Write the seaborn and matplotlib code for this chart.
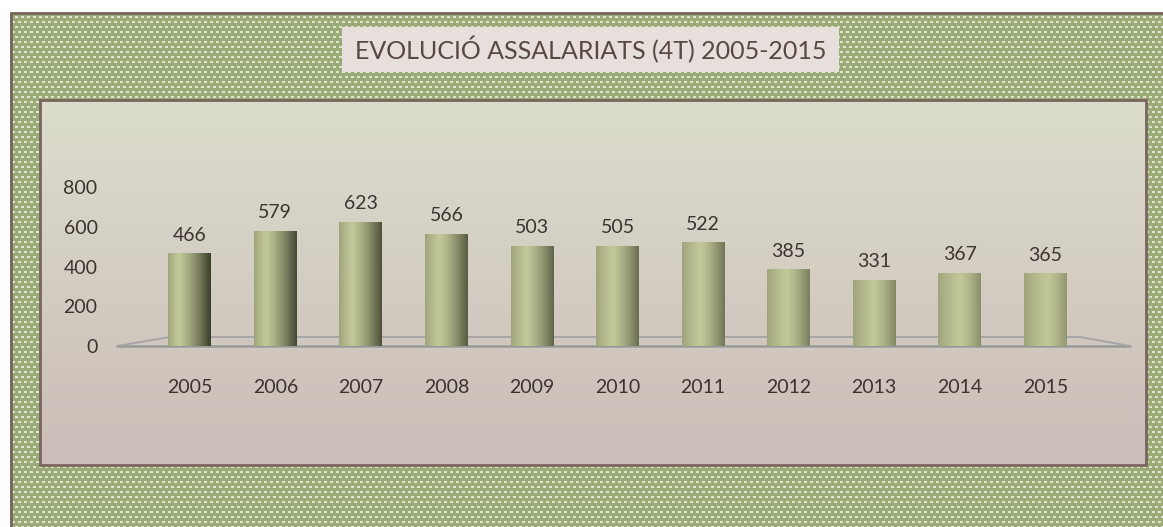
import numpy as np
import pandas as pd
import matplotlib
matplotlib.use("Agg")
import matplotlib.pyplot as plt
import seaborn as sns
from matplotlib.patches import Rectangle

# data
years = ["2005", "2006", "2007", "2008", "2009", "2010", "2011", "2012", "2013", "2014", "2015"]
employees = [466, 579, 623, 566, 503, 505, 522, 385, 331, 367, 365]
y_ticks = [0, 200, 400, 600, 800]
title = "EVOLUCIÓ ASSALARIATS (4T) 2005-2015"

sns.set_theme(style="white")
plt.rcParams["font.family"] = ["Lato", "DejaVu Sans"]

W, H = 1163, 527
fig = plt.figure(figsize=(W / 100, H / 100), dpi=100)
fig.patch.set_facecolor("white")

# background: green textured frame
bg = fig.add_axes([0, 0, 1, 1], zorder=0)
bg.set_xlim(0, W)
bg.set_ylim(H, 0)
bg.axis("off")
yy, xx = np.mgrid[0:H, 0:W]
shift = ((yy // 5) % 2) * 3
dots = (((xx + shift) % 6) < 3) & ((yy % 5) >= 1) & ((yy % 5) <= 2)
tex = np.zeros((H, W, 3))
tex[:] = np.array([155, 171, 120]) / 255
tex[dots] = np.array([222, 228, 206]) / 255
bg.imshow(tex, extent=[0, W, H, 0], interpolation="nearest", zorder=0)
bg.add_patch(Rectangle((0, 0), 10, H, facecolor="white", edgecolor="none", zorder=1))
bg.add_patch(Rectangle((0, 0), W, 12, facecolor="white", edgecolor="none", zorder=1))
bg.plot([10.5, 10.5, W], [H, 12.5, 12.5], color="#7a665e", lw=2, zorder=2)

# inner panel with vertical gradient
grad = np.linspace(0, 1, 256)[:, None, None]
top_c = np.array([220, 221, 205]) / 255
bot_c = np.array([203, 189, 184]) / 255
panel = top_c * (1 - grad) + bot_c * grad
panel = np.repeat(panel, 2, axis=1)
bg.imshow(panel, extent=[40, 1146, 465, 100], aspect="auto", zorder=3)
bg.add_patch(Rectangle((40, 100), 1106, 365, facecolor="none", edgecolor="#7a665e", lw=2, zorder=4))

# title box
bg.add_patch(Rectangle((342, 27), 497, 45, facecolor="#e6dfdb", edgecolor="none", zorder=4))
bg.text(591, 50, title, ha="center", va="center", fontsize=18, color="#584842", zorder=5)

# floor of the 3D plot
bg.plot([117, 1130], [346, 346], color="#9a9a9a", lw=1.8, zorder=4)
bg.plot([117, 170, 1080, 1130], [346, 337, 337, 346], color="#a4a4a4", lw=1.3, zorder=4)

# main axes
ax = fig.add_axes([117 / W, (H - 346) / H, (1130 - 117) / W, (346 - 187) / H], zorder=2)
ax.patch.set_alpha(0)
df = pd.DataFrame({"year": years, "value": employees})
sns.barplot(data=df, x="year", y="value", color="#a9b07f", width=0.5, ax=ax, zorder=3)

# cylinder shading on each bar
xs = np.linspace(0, 1, 100)
light = np.array([194, 199, 152]) / 255
dark = np.array([58, 62, 44]) / 255
n = len(years)
for i, bar in enumerate(ax.patches):
    hl = 0.25 + 0.3 * i / (n - 1)
    right_dark = 1.0 - 0.55 * i / (n - 1)
    t = np.where(xs < hl, (hl - xs) / hl * 0.35, (xs - hl) / (1 - hl) * right_dark)
    t = np.clip(t, 0, 1) ** 1.3
    row = light * (1 - t[:, None]) + dark * t[:, None]
    img = row[None, :, :]
    x0, w, h = bar.get_x(), bar.get_width(), bar.get_height()
    im = ax.imshow(img, extent=[x0, x0 + w, 0, h], aspect="auto", zorder=4)
    im.set_clip_path(bar)
    bar.set_edgecolor("none")

ax.bar_label(ax.containers[0], padding=7, fontsize=14, color="#3b3330")

ax.set_xlim(-0.85, 10.99)
ax.set_ylim(0, 800)
ax.set_yticks(y_ticks)
ax.set_xlabel("")
ax.set_ylabel("")
ax.tick_params(axis="y", length=0, pad=14, labelsize=14, labelcolor="#3b3330")
ax.tick_params(axis="x", length=0, pad=24, labelsize=14, labelcolor="#3b3330")
for s in ax.spines.values():
    s.set_visible(False)

fig.savefig("out.png", dpi=100)
